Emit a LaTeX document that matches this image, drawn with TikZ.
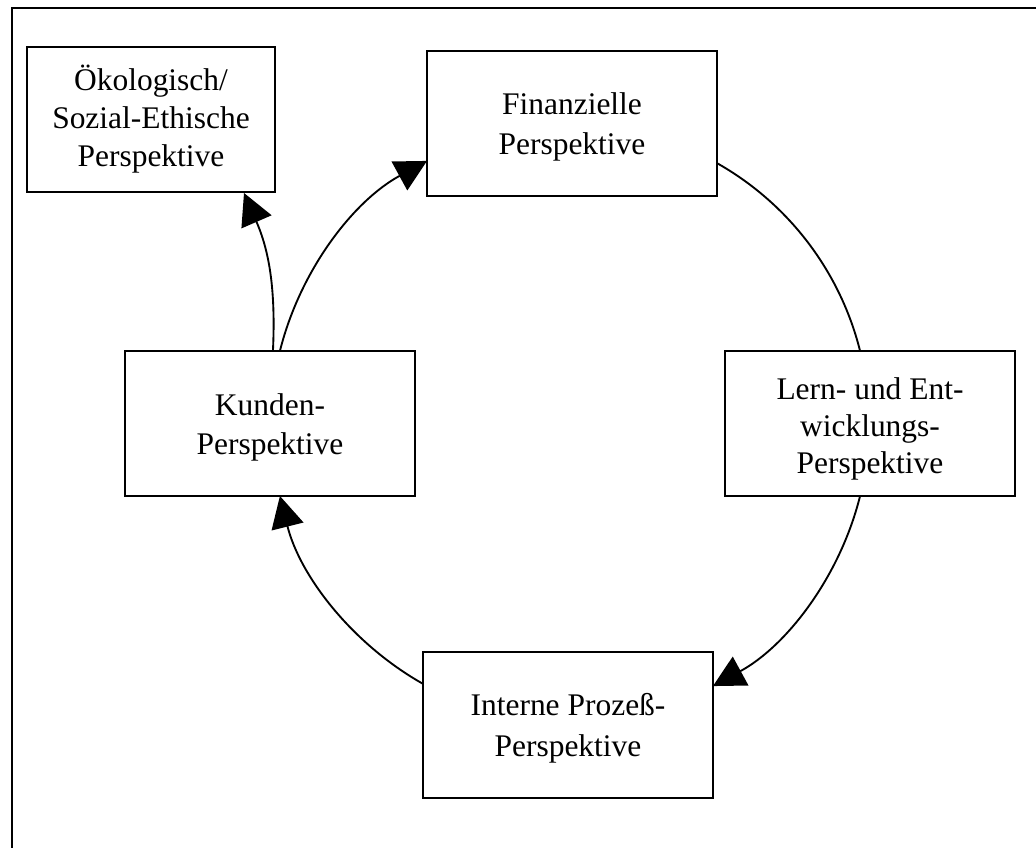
\documentclass[tikz,border=0pt]{standalone}
\usepackage{fontspec}
\setmainfont{Liberation Serif}
\usetikzlibrary{arrows.meta}
\begin{document}
\begin{tikzpicture}[x=0.75pt,y=0.75pt,
  persp/.style={draw, line width=1.5pt, rectangle, minimum width=217.5pt,
    minimum height=108.75pt, inner sep=0pt},
  txt/.style={align=center, inner sep=0pt, font=\fontsize{23.6}{#1}\selectfont},
  txt/.default=29.3pt,
  flow/.style={line width=1.4pt},
  head/.style={-{Triangle[length=23.6pt,width=24.4pt]}}
]
\useasboundingbox (0,0) rectangle (1036,847);
\clip (0,0) rectangle (1036,847);

% outer frame, running off the right and bottom edges
\draw[line width=1.5pt] (11.5,-20) rectangle (1060,838.5);

% the five perspectives
\node[persp, minimum width=186pt,
  label={[txt=28.5pt, yshift=0.5pt]center:{Ökologisch/\\Sozial-Ethische\\Perspektive}}]
  (oek) at (151,727.5) {};
\node[persp, label={[txt=30.5pt, yshift=-2.5pt]center:{Finanzielle\\Perspektive}}]
  (fin) at (572,723.5) {};
\node[persp, label={[txt=29.3pt, yshift=-3pt]center:{Kunden-\\Perspektive}}]
  (kun) at (270,423.5) {};
\node[persp, label={[txt=27.6pt, yshift=-4pt]center:{Lern- und Ent-\\wicklungs-\\Perspektive}}]
  (lern) at (870,423.5) {};
\node[persp, minimum height=109.5pt, label={[txt=30.5pt, yshift=-2.5pt]center:{Interne Prozeß-\\Perspektive}}]
  (int) at (568,122) {};

% centre of the cycle
\coordinate (hub) at (570,423.5);

% cycle arcs between the boxes
\draw[flow] (hub) ++(60.55:224.25pt) arc[start angle=60.55, end angle=14.03, radius=224.25pt];
\draw[flow,head] (hub) ++(-14.03:224.25pt) arc[start angle=-14.03, end angle=-61.43, radius=224.25pt];
\draw[flow,head] (hub) ++(-119.45:224.25pt) arc[start angle=-119.45, end angle=-165.97, radius=224.25pt];
\draw[flow,head] (hub) ++(165.97:224.25pt) arc[start angle=165.97, end angle=118.57, radius=224.25pt];

% branch to the ecological / social-ethical perspective
\draw[flow,head] ([xshift=2.25pt]kun.north) to[bend right=13] ([xshift=69.75pt]oek.south);
\end{tikzpicture}
\end{document}
